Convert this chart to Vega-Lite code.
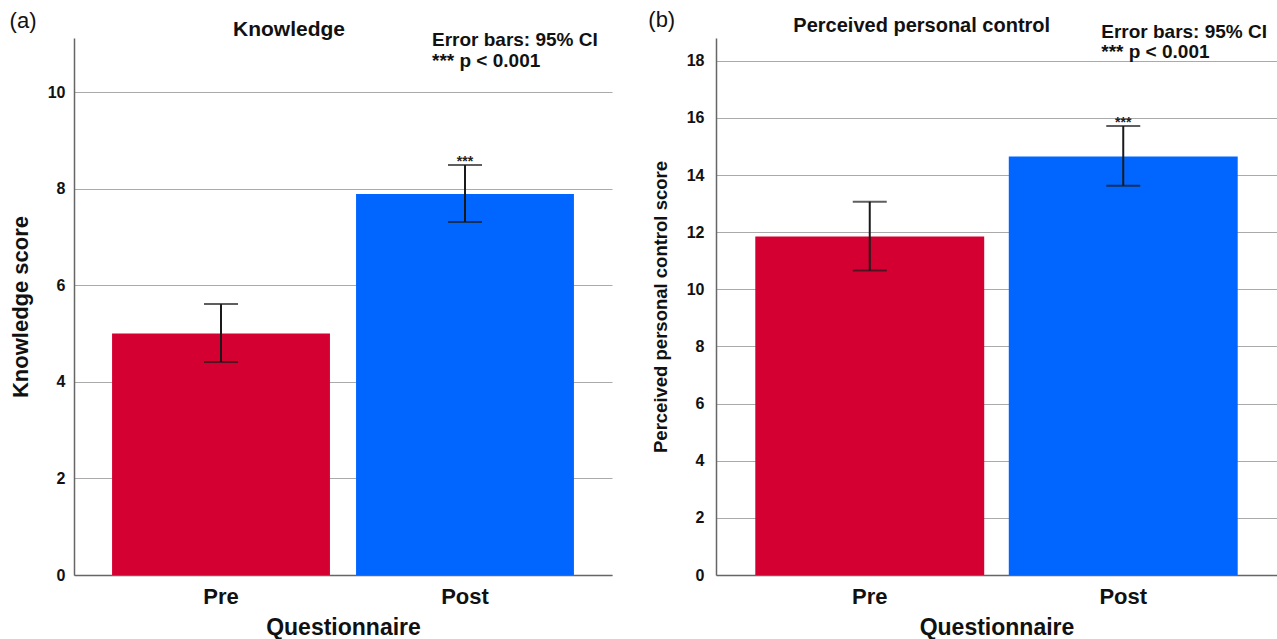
{
  "$schema": "https://vega.github.io/schema/vega-lite/v6.json",
  "padding": {"left": 9, "top": 9, "right": 0, "bottom": 0},
  "background": "white",
  "bounds": "flush",
  "spacing": 104,
  "config": {
    "font": "Liberation Sans",
    "view": {"stroke": null},
    "axis": {
      "labelFont": "Liberation Sans",
      "titleFont": "Liberation Sans",
      "labelFontWeight": "bold",
      "titleFontWeight": "bold",
      "labelColor": "#111",
      "titleColor": "#111",
      "domainColor": "#666",
      "domainWidth": 1.5,
      "gridColor": "#aaaaaa",
      "gridWidth": 1,
      "ticks": false,
      "tickSize": 0
    }
  },
  "datasets": {
    "knowledge": [
      {"q": "Pre", "mean": 5.0, "lo": 4.41, "hi": 5.61, "sig": ""},
      {"q": "Post", "mean": 7.89, "lo": 7.31, "hi": 8.49, "sig": "***"}
    ],
    "control": [
      {"q": "Pre", "mean": 11.85, "lo": 10.66, "hi": 13.07, "sig": ""},
      {"q": "Post", "mean": 14.65, "lo": 13.63, "hi": 15.72, "sig": "***"}
    ],
    "ka": [{"q": "Pre", "y": 11.47, "t": "(a)"}],
    "kt": [{"q": "Pre", "y": 11.28, "t": "Knowledge"}],
    "kn": [{"q": "Post", "y": 11.08, "t": "Error bars: 95% CI\n*** p < 0.001"}],
    "cb": [{"q": "Pre", "y": 19.43, "t": "(b)"}],
    "ct": [{"q": "Pre", "y": 19.22, "t": "Perceived personal control"}],
    "cn": [{"q": "Post", "y": 19.01, "t": "Error bars: 95% CI\n*** p < 0.001"}]
  },
  "hconcat": [
    {
      "width": 538,
      "height": 537,
      "encoding": {
        "x": {
          "field": "q", "type": "nominal", "sort": ["Pre", "Post"],
          "scale": {"domain": ["Pre", "Post"], "paddingInner": 0.107, "paddingOuter": 0.156},
          "axis": {"title": "Questionnaire", "labelAngle": 0, "labelFontSize": 22, "labelPadding": 11, "titleFontSize": 23, "titlePadding": 9, "grid": false}
        }
      },
      "layer": [
        {
          "data": {"name": "knowledge"},
          "mark": {"type": "bar"},
          "encoding": {
            "y": {
              "field": "mean", "type": "quantitative",
              "scale": {"domain": [0, 11.12], "nice": false},
              "axis": {"title": "Knowledge score", "values": [0, 2, 4, 6, 8, 10], "labelFontSize": 16, "labelPadding": 9, "titleFontSize": 22, "titlePadding": 15, "grid": true}
            },
            "color": {"field": "q", "type": "nominal", "scale": {"domain": ["Pre", "Post"], "range": ["#d50032", "#0066ff"]}, "legend": null}
          }
        },
        {
          "data": {"name": "knowledge"},
          "mark": {"type": "rule", "color": "#1a1a1a", "strokeWidth": 2},
          "encoding": {"y": {"field": "lo", "type": "quantitative"}, "y2": {"field": "hi"}}
        },
        {
          "data": {"name": "knowledge"},
          "mark": {"type": "tick", "color": "#1a1a1a", "thickness": 2, "size": 34, "orient": "horizontal"},
          "encoding": {"y": {"field": "lo", "type": "quantitative"}}
        },
        {
          "data": {"name": "knowledge"},
          "mark": {"type": "tick", "color": "#1a1a1a", "thickness": 2, "size": 34, "orient": "horizontal"},
          "encoding": {"y": {"field": "hi", "type": "quantitative"}}
        },
        {
          "data": {"name": "knowledge"},
          "mark": {"type": "text", "baseline": "bottom", "fontSize": 14, "fontWeight": "bold", "dy": 4, "color": "#222"},
          "encoding": {"y": {"field": "hi", "type": "quantitative"}, "text": {"field": "sig"}}
        },
        {
          "data": {"name": "ka"},
          "mark": {"type": "text", "fontSize": 22, "align": "center", "baseline": "middle", "dx": -198, "clip": false, "color": "#111"},
          "encoding": {"y": {"field": "y", "type": "quantitative"}, "text": {"field": "t"}}
        },
        {
          "data": {"name": "kt"},
          "mark": {"type": "text", "fontSize": 21, "fontWeight": "bold", "align": "center", "baseline": "middle", "dx": 68, "clip": false, "color": "#111"},
          "encoding": {"y": {"field": "y", "type": "quantitative"}, "text": {"field": "t"}}
        },
        {
          "data": {"name": "kn"},
          "mark": {"type": "text", "fontSize": 19, "fontWeight": "bold", "align": "left", "baseline": "middle", "dx": -33, "lineBreak": "\n", "lineHeight": 21, "clip": false, "color": "#111"},
          "encoding": {"y": {"field": "y", "type": "quantitative"}, "text": {"field": "t"}}
        }
      ]
    },
    {
      "width": 561,
      "height": 537,
      "encoding": {
        "x": {
          "field": "q", "type": "nominal", "sort": ["Pre", "Post"],
          "scale": {"domain": ["Pre", "Post"], "paddingInner": 0.097, "paddingOuter": 0.155},
          "axis": {"title": "Questionnaire", "labelAngle": 0, "labelFontSize": 22, "labelPadding": 11, "titleFontSize": 23, "titlePadding": 9, "grid": false}
        }
      },
      "layer": [
        {
          "data": {"name": "control"},
          "mark": {"type": "bar"},
          "encoding": {
            "y": {
              "field": "mean", "type": "quantitative",
              "scale": {"domain": [0, 18.8], "nice": false},
              "axis": {"title": "Perceived personal control score", "values": [0, 2, 4, 6, 8, 10, 12, 14, 16, 18], "labelFontSize": 16, "labelPadding": 12, "titleFontSize": 18.5, "titlePadding": 16, "grid": true}
            },
            "color": {"field": "q", "type": "nominal", "scale": {"domain": ["Pre", "Post"], "range": ["#d50032", "#0066ff"]}, "legend": null}
          }
        },
        {
          "data": {"name": "control"},
          "mark": {"type": "rule", "color": "#1a1a1a", "strokeWidth": 2},
          "encoding": {"y": {"field": "lo", "type": "quantitative"}, "y2": {"field": "hi"}}
        },
        {
          "data": {"name": "control"},
          "mark": {"type": "tick", "color": "#1a1a1a", "thickness": 2, "size": 34, "orient": "horizontal"},
          "encoding": {"y": {"field": "lo", "type": "quantitative"}}
        },
        {
          "data": {"name": "control"},
          "mark": {"type": "tick", "color": "#1a1a1a", "thickness": 2, "size": 34, "orient": "horizontal"},
          "encoding": {"y": {"field": "hi", "type": "quantitative"}}
        },
        {
          "data": {"name": "control"},
          "mark": {"type": "text", "baseline": "bottom", "fontSize": 14, "fontWeight": "bold", "dy": 4, "color": "#222"},
          "encoding": {"y": {"field": "hi", "type": "quantitative"}, "text": {"field": "sig"}}
        },
        {
          "data": {"name": "cb"},
          "mark": {"type": "text", "fontSize": 22, "align": "center", "baseline": "middle", "dx": -208, "clip": false, "color": "#111"},
          "encoding": {"y": {"field": "y", "type": "quantitative"}, "text": {"field": "t"}}
        },
        {
          "data": {"name": "ct"},
          "mark": {"type": "text", "fontSize": 20, "fontWeight": "bold", "align": "center", "baseline": "middle", "dx": 52, "clip": false, "color": "#111"},
          "encoding": {"y": {"field": "y", "type": "quantitative"}, "text": {"field": "t"}}
        },
        {
          "data": {"name": "cn"},
          "mark": {"type": "text", "fontSize": 19, "fontWeight": "bold", "align": "left", "baseline": "middle", "dx": -22, "lineBreak": "\n", "lineHeight": 20, "clip": false, "color": "#111"},
          "encoding": {"y": {"field": "y", "type": "quantitative"}, "text": {"field": "t"}}
        }
      ]
    }
  ]
}
